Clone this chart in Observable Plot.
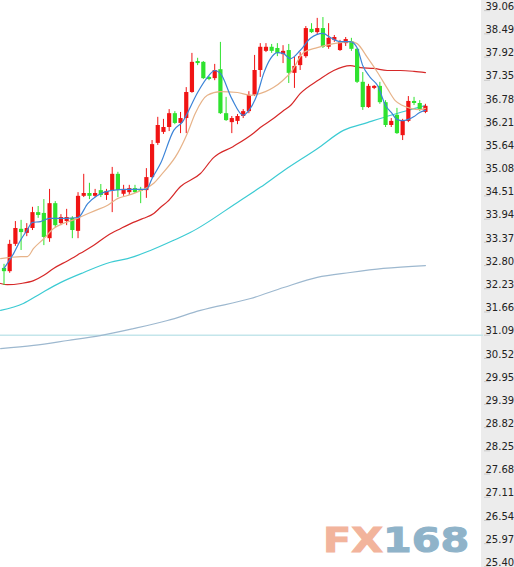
<!DOCTYPE html>
<html>
<head>
<meta charset="utf-8">
<script src="https://cdn.jsdelivr.net/npm/d3@7"></script>
<script src="https://cdn.jsdelivr.net/npm/@observablehq/plot@0.6"></script>
<style>
  html, body { margin: 0; padding: 0; background: #fff; }
  #wrap { position: relative; width: 514px; height: 567px; overflow: hidden;
          background: linear-gradient(to right, #ffffff 0px, #ffffff 481px, #ececec 481px, #ececec 514px); }
  #wrap svg { display: block; }
  #wm { position: absolute; left: 323px; top: 524px; font-family: "DejaVu Sans", sans-serif; font-weight: bold;
        font-size: 33px; line-height: 1; white-space: nowrap; transform: scaleX(1.25); transform-origin: left top;
        -webkit-text-stroke: 1px currentColor; }
</style>
</head>
<body>
<div id="wrap"></div>
<script>
// Candles (index order, left to right)
const opens  = [32.73,32.65,33.32,33.69,33.59,33.71,34.10,34.08,33.46,34.32,33.83,33.88,33.96,33.64,34.50,34.57,34.50,34.64,34.52,34.62,35.04,34.55,34.59,34.69,34.67,34.64,34.96,35.80,36.07,36.19,36.53,36.29,36.41,37.05,37.81,37.79,37.42,37.39,37.61,36.53,36.31,36.34,36.46,36.58,36.98,37.59,38.06,38.16,38.13,37.98,38.08,37.52,37.71,37.93,38.60,38.52,38.62,38.16,38.33,38.08,38.25,38.30,38.11,37.30,36.68,37.15,37.20,36.80,36.24,36.49,35.99,36.34,36.83,36.78,36.56];
const highs  = [32.83,33.42,33.88,33.91,33.83,34.23,34.25,34.42,34.67,34.37,34.05,34.18,34.00,34.59,35.04,34.82,34.67,34.79,34.67,35.21,35.09,34.77,34.77,34.77,34.72,35.18,35.87,36.44,36.39,36.63,36.58,36.56,37.17,38.01,37.89,37.81,37.44,37.74,38.28,36.93,36.46,36.51,36.63,37.07,37.96,38.25,38.25,38.23,38.25,38.20,38.23,37.91,38.03,38.67,38.74,38.87,38.89,38.74,38.45,38.33,38.40,38.38,38.13,37.54,37.25,37.22,37.30,36.85,36.41,36.66,36.39,36.95,36.93,36.85,36.76];
const lows   = [32.31,32.61,33.27,33.17,33.51,33.66,33.96,33.29,33.37,33.73,33.78,33.78,33.46,33.46,34.47,34.42,34.47,34.47,34.40,34.10,34.47,34.50,34.52,34.57,34.32,34.45,34.94,35.75,36.02,36.09,36.26,36.04,36.04,37.03,37.71,37.37,37.34,37.34,36.51,36.34,36.04,36.26,36.41,36.53,36.95,37.42,38.03,38.01,37.93,37.76,37.27,37.15,37.59,37.89,38.50,38.47,38.13,38.11,38.28,38.06,38.18,38.06,37.27,36.61,36.66,37.12,36.76,36.19,36.19,36.02,35.87,36.31,36.73,36.58,36.53];
const closes = [32.65,33.32,33.71,33.61,33.71,34.10,34.03,33.49,34.32,33.78,33.98,33.98,33.66,34.50,34.57,34.50,34.57,34.52,34.62,35.04,34.64,34.67,34.69,34.59,34.62,34.96,35.77,36.24,36.19,36.53,36.29,36.41,37.05,37.79,37.76,37.39,37.37,37.59,36.53,36.36,36.41,36.46,36.58,36.98,37.59,38.16,38.16,38.06,38.01,38.06,37.52,37.69,37.93,38.62,38.52,38.62,38.16,38.38,38.40,38.28,38.35,38.11,37.30,36.68,37.20,37.20,36.80,36.24,36.34,36.04,36.34,36.83,36.78,36.63,36.71];

// Moving-average lines: [candle index, price]
const ma5 = [[0,32.73],[1.7,33.10],[2.9,33.42],[4,33.66],[5,33.86],[6.4,33.88],[8,33.96],[11,33.96],[13,33.98],[14.7,34.32],[16.4,34.52],[18.7,34.64],[21.7,34.67],[25,34.67],[26,34.94],[27.5,35.31],[29.8,36.12],[31.5,36.36],[32,36.49],[34,37.05],[36,37.47],[37,37.59],[38,37.52],[40,36.90],[42,36.49],[43,36.61],[44.5,37.02],[45.6,37.52],[46.8,37.88],[48,38.03],[49,38.01],[50.3,37.88],[52,38.08],[53.8,38.38],[56,38.50],[57.3,38.40],[59,38.30],[60.8,38.30],[62,38.15],[63,37.71],[64.3,37.42],[65.6,37.22],[67,36.73],[68,36.56],[69,36.39],[70,36.36],[71,36.39],[72,36.46],[73,36.56],[74,36.61]];
const ma10 = [[-0.6,32.97],[1.1,33.00],[3,33.02],[4.1,33.02],[5.2,33.22],[7,33.46],[8.7,33.71],[10.3,33.83],[12,33.91],[14,34.03],[16,34.15],[18.2,34.28],[20,34.45],[21.7,34.52],[24,34.64],[26.3,34.82],[27.5,35.01],[30.5,35.56],[32.2,36.05],[33.6,36.54],[35.7,36.98],[38,37.07],[41,37.05],[43.3,36.98],[45.9,37.07],[47.3,37.17],[48.9,37.34],[50.5,37.57],[52.6,38.03],[55,38.15],[57.9,38.25],[60.8,38.30],[62,38.25],[63.8,37.91],[65.6,37.54],[67.3,37.15],[68.7,36.85],[70,36.73],[71.4,36.66],[73,36.63],[74,36.66]];
const ma20 = [[-0.6,32.36],[0.6,32.33],[3,32.36],[5.2,32.43],[7,32.56],[8.7,32.73],[11.2,32.92],[13.4,33.10],[15.7,33.29],[18.2,33.54],[20.5,33.71],[22.7,33.86],[24.5,33.96],[26.3,34.08],[27.5,34.23],[28.7,34.37],[31,34.74],[34.5,35.06],[36.8,35.45],[40.2,35.72],[43.8,36.05],[45,36.19],[47.3,36.41],[49.1,36.61],[50.3,36.73],[52,37.02],[55.3,37.36],[57.9,37.59],[60.8,37.71],[62.6,37.66],[64.9,37.64],[67.3,37.59],[69.6,37.59],[72,37.57],[74,37.54]];
const ma60 = [[-0.6,31.70],[3.4,31.87],[6.4,32.11],[9.9,32.38],[14,32.63],[18.7,32.88],[21.7,32.97],[25.7,33.17],[29.8,33.42],[32.7,33.61],[41.5,34.40],[45,34.72],[49.1,35.13],[55,35.67],[59.6,36.12],[63.8,36.31],[67.9,36.49],[70.9,36.61],[74,36.73]];
const ma120 = [[-0.6,30.76],[5.2,30.84],[11.2,30.96],[16.9,31.08],[22.7,31.25],[28.7,31.45],[34.5,31.70],[43.3,31.99],[49.1,32.26],[55,32.51],[60.8,32.63],[66.6,32.73],[74,32.80]];

const refLine = [31.09];
const yTicks = [39.06,38.49,37.92,37.35,36.78,36.21,35.64,35.08,34.51,33.94,33.37,32.80,32.23,31.66,31.09,30.52,29.95,29.39,28.82,28.25,27.68,27.11,26.54,25.97,25.40];
const watermark = ["FX", "168"];

const candles = opens.map((o, i) => ({i, o, h: highs[i], l: lows[i], c: closes[i], up: closes[i] >= o}));
const UP = "#f01414", DOWN = "#2fe22f";
const col = d => d.up ? UP : DOWN;
const fmt = d => d.toFixed(2);
const W = 514, H = 567, MR = 31;

const lineOpts = (stroke) => ({x: d => d[0], y: d => d[1], stroke, strokeWidth: 1.2, curve: "monotone-x"});

const chart = Plot.plot({
  width: W, height: H,
  marginLeft: 0, marginRight: MR, marginTop: 0, marginBottom: 0,
  style: {fontFamily: "DejaVu Sans, sans-serif", fontSize: "10px", background: "transparent"},
  x: {domain: [-0.6146, 84.196], axis: null},
  y: {domain: [25.385, 39.309], axis: null},
  marks: [
    Plot.ruleY(refLine, {stroke: "#c4e6eb", strokeWidth: 1.6}),
    Plot.line(ma120, lineOpts("#9db8cf")),
    Plot.line(ma60, lineOpts("#3ccbd3")),
    Plot.line(ma20, lineOpts("#d62828")),
    Plot.ruleX(candles, {x: "i", y1: "l", y2: "h", stroke: col, strokeWidth: 1}),
    Plot.ruleX(candles, {x: "i", y1: "o", y2: "c", stroke: col, strokeWidth: 4.2, strokeLinecap: "butt"}),
    Plot.line(ma10, lineOpts("#e7b389")),
    Plot.line(ma5, lineOpts("#3c84d8")),
    Plot.axisY(yTicks, {anchor: "right", tickSize: 6, stroke: "#c8c8c8", fill: "none", tickFormat: fmt, label: null}),
    Plot.axisY(yTicks, {anchor: "right", tickSize: 0, tickPadding: 2, dy: -4, fill: "#222",
                        fontSize: 10, tickFormat: fmt, label: null})
  ]
});

const wrap = document.getElementById("wrap");
wrap.appendChild(chart);
const wm = document.createElement("div");
wm.id = "wm";
wm.innerHTML = `<span style="color:#f2b49c">${watermark[0]}</span><span style="color:#8fb3c9">${watermark[1]}</span>`;
wrap.appendChild(wm);
</script>
</body>
</html>
